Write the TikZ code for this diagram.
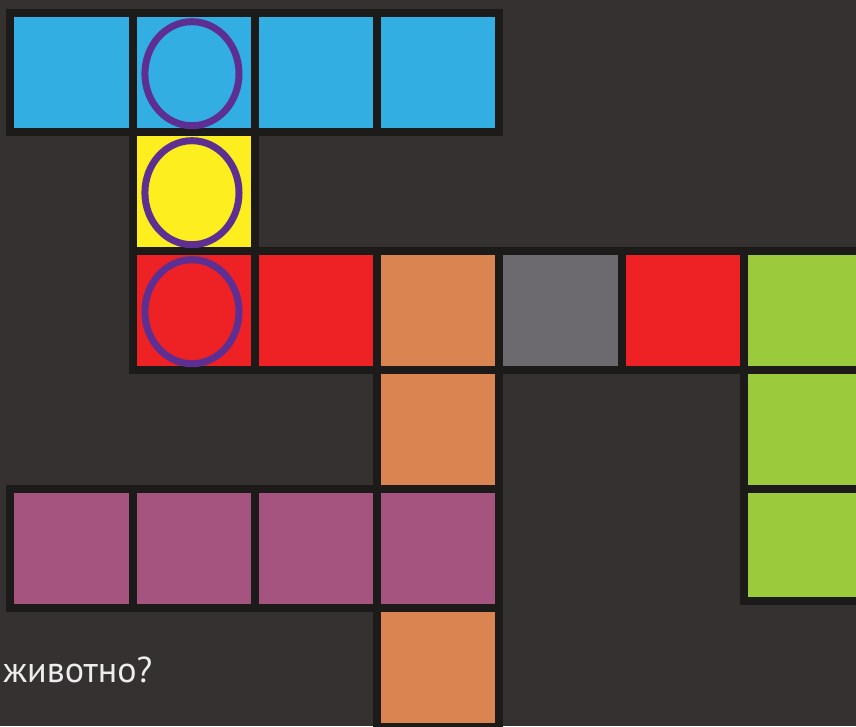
\documentclass[tikz,border=0pt]{standalone}
\usepackage{fontspec}
\newfontfamily\labelfont{PT Sans}

\definecolor{boardbg}{HTML}{353131}
\definecolor{gridline}{HTML}{1D1A1A}
\definecolor{skyblue}{HTML}{33AEE3}
\definecolor{lemon}{HTML}{FDEE1F}
\definecolor{tomato}{HTML}{EE2125}
\definecolor{clay}{HTML}{DA8551}
\definecolor{slate}{HTML}{6C696F}
\definecolor{lime}{HTML}{9BCA3C}
\definecolor{plum}{HTML}{A5537F}
\definecolor{ring}{HTML}{5D2F92}
\definecolor{chalk}{HTML}{EEEDED}

\tikzset{
  cell/.style={draw=gridline, line width=4pt},
  mark ring/.style={draw=ring, line width=3.5pt},
}

\begin{document}
\begin{tikzpicture}[x=61.1pt, y=-59.5pt]

% Background
\fill[boardbg] (-0.0859,-0.1092) rectangle (6.919,5.992);
\useasboundingbox (-0.0859,-0.1092) rectangle (6.919,5.992);

% Cells
\foreach \c/\r/\col in {0/0/skyblue, 1/0/skyblue, 2/0/skyblue, 3/0/skyblue,
  1/1/lemon,
  1/2/tomato, 2/2/tomato, 3/2/clay, 4/2/slate, 5/2/tomato, 6/2/lime,
  3/3/clay, 6/3/lime,
  0/4/plum, 1/4/plum, 2/4/plum, 3/4/plum,
  3/5/clay}
  \filldraw[cell, fill=\col] (\c,\r) rectangle ++(1,1);

% Last green cell, a little shorter
\filldraw[cell, fill=lime] (6,4) rectangle (7,4.94);

% Rings
\foreach \r in {0,1,2}
  \draw[mark ring] (1.485,\r+0.51) ellipse [x radius=0.385, y radius=0.437];

% Question
\node[anchor=base west, inner sep=0pt, text=chalk, font=\labelfont\fontsize{18}{20}\selectfont]
  (question) at (-0.061,5.63) {животно?};

\end{tikzpicture}
\end{document}
